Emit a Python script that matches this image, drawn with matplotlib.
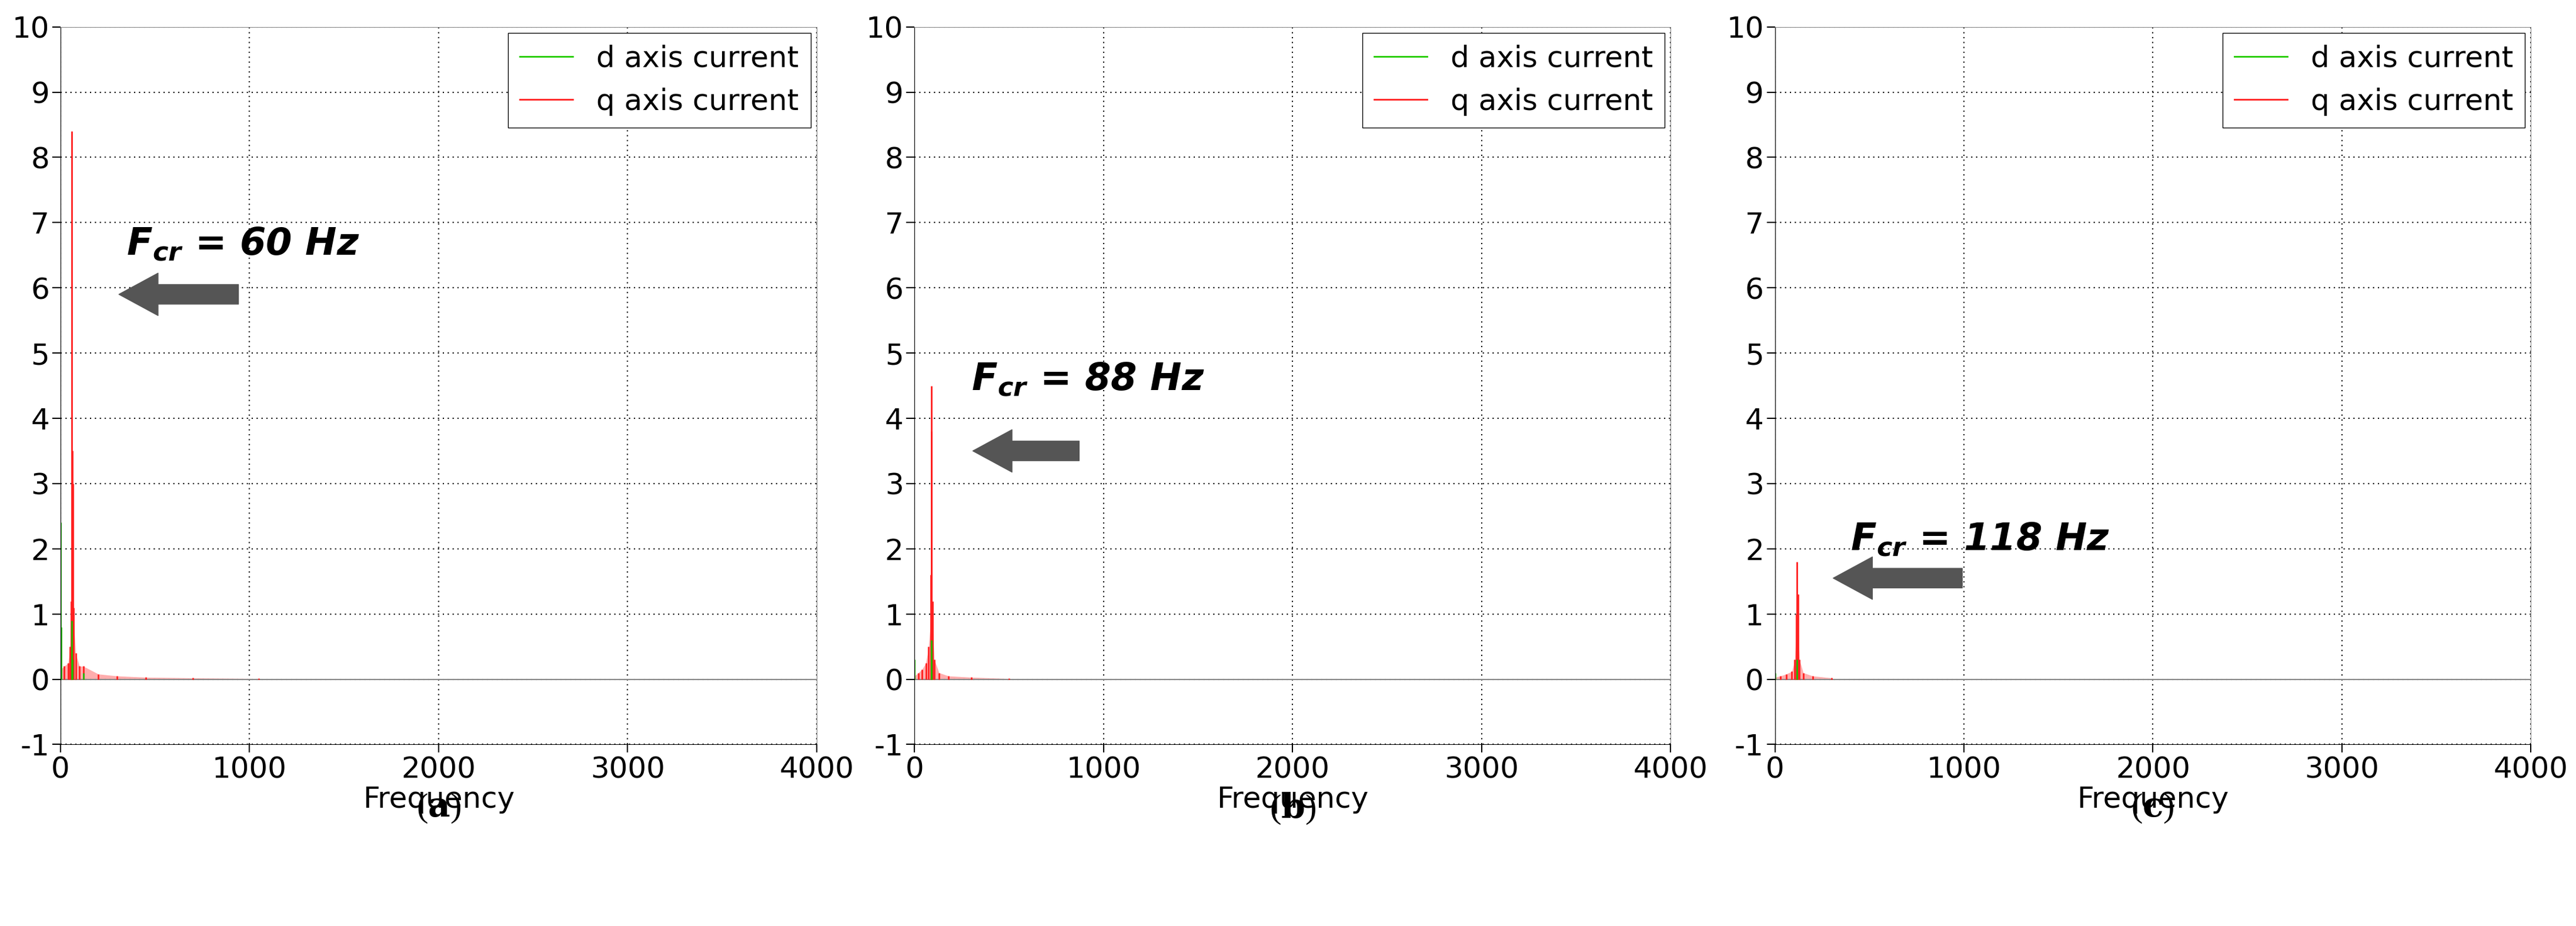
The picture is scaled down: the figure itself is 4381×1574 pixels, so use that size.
import matplotlib
matplotlib.use("Agg")
import matplotlib.pyplot as plt

plt.rcParams["axes.unicode_minus"] = False
plt.rcParams["mathtext.fontset"] = "custom"
plt.rcParams["mathtext.bf"] = "DejaVu Sans:italic:bold"

panels = ["a", "b", "c"]
labels_fcr = ["60", "88", "118"]
# q-axis spectrum: (frequency Hz, amplitude) stems
q_freqs = [[0, 20, 40, 50, 55, 60, 62, 65, 70, 80, 100, 120, 200, 300, 450, 700, 1050],
           [0, 20, 40, 60, 75, 85, 88, 90, 95, 105, 130, 180, 300, 500],
           [0, 30, 60, 90, 105, 113, 118, 122, 130, 150, 200, 300]]
q_amps = [[0.15, 0.2, 0.25, 0.5, 1.2, 8.4, 3.5, 3.0, 1.1, 0.4, 0.2, 0.2, 0.08, 0.05, 0.03, 0.02, 0.01],
          [0.05, 0.1, 0.15, 0.25, 0.5, 1.6, 4.5, 3.8, 1.2, 0.3, 0.1, 0.05, 0.03, 0.01],
          [0.03, 0.05, 0.08, 0.12, 0.3, 1.0, 1.8, 1.3, 0.3, 0.1, 0.05, 0.02]]
d_freqs = [[0, 2, 60, 62, 120], [0, 88, 90], [0, 118]]
d_amps = [[2.4, 0.8, 0.9, 0.3, 0.1], [0.3, 0.6, 0.3], [0.1, 0.3]]
text_y = [6.67, 4.6, 2.15]
arrow_y = [5.9, 3.5, 1.55]
arrow_x0 = [950, 880, 1000]
arrow_x1 = [300, 300, 300]
text_x = [350, 300, 400]

fig = plt.figure(figsize=(43.81, 15.74), dpi=100)
lefts = [0.0235, 0.355, 0.689]
for i in range(3):
    ax = fig.add_axes([lefts[i], 0.196, 0.2935, 0.775])
    ax.set_xlim(0, 4000)
    ax.set_ylim(-1, 10)
    ax.set_xticks([0, 1000, 2000, 3000, 4000])
    ax.set_yticks(range(-1, 11))
    ax.grid(True, color="black", linestyle=(0, (1, 3)), linewidth=1.5)
    ax.axhline(0, color="#888888", linewidth=1.5)
    ax.fill_between(q_freqs[i], 0, [min(a, 0.9) for a in q_amps[i]], color="#ff9999", alpha=0.8, lw=0)
    ax.vlines(q_freqs[i], 0, q_amps[i], color="#ff2020", linewidth=2)
    ax.vlines(d_freqs[i], 0, d_amps[i], color="#22bb00", linewidth=2)
    ax.plot([], [], color="#22cc00", lw=2, label="d axis current")
    ax.plot([], [], color="#ff2020", lw=2, label="q axis current")
    ax.legend(loc="upper right", fontsize=36, fancybox=False, edgecolor="black",
              framealpha=1, handlelength=1.8, borderaxespad=0.2)
    for s in ["top", "right"]:
        ax.spines[s].set_color("#888888")
    ax.tick_params(labelsize=36, length=10, width=1.5)
    ax.set_xlabel("Frequency", fontsize=36, labelpad=2)
    ax.annotate("", xy=(arrow_x1[i], arrow_y[i]), xytext=(arrow_x0[i], arrow_y[i]),
                arrowprops=dict(arrowstyle="simple,head_length=1.2,head_width=1.3,tail_width=0.6",
                                color="#555555", mutation_scale=40))
    ax.text(text_x[i], text_y[i], r"$\mathbf{F_{cr}}$ = " + labels_fcr[i] + " Hz", fontsize=46,
            fontweight="bold", fontstyle="italic", va="center")
    fig.text(lefts[i] + 0.2935 / 2, 0.127, r"(" + r"$\bf{" + panels[i] + r"}$" + ")", fontsize=42,
             ha="center", va="center", family="Liberation Serif",
             math_fontfamily="dejavuserif")
fig.savefig("out.png", dpi=100)
